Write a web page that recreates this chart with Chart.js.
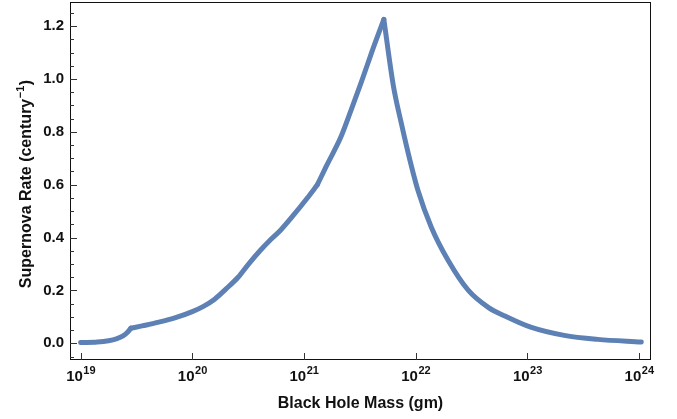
<!DOCTYPE html>
<html>
<head>
<meta charset="utf-8">
<script src="https://cdn.jsdelivr.net/npm/chart.js@4.4.0/dist/chart.umd.min.js"></script>
<style>
  html, body { margin: 0; padding: 0; background: #fff; }
  #wrap { width: 677px; height: 419px; }
</style>
</head>
<body>
<div id="wrap"><canvas id="c" width="677" height="419"></canvas></div>
<script>
// ---- data ----
// log10 of black hole mass (gm)
const logMass = [19.00, 19.15, 19.25, 19.32, 19.38, 19.42, 19.45, 19.55, 19.70, 19.85,
                 20.00, 20.10, 20.20, 20.30, 20.41, 20.50, 20.61, 20.70, 20.79, 20.90,
                 21.03, 21.12, 21.20, 21.33, 21.42, 21.51, 21.61, 21.715, 21.80, 21.87,
                 21.95, 22.02, 22.14, 22.29, 22.47, 22.65, 22.80, 23.03, 23.33, 23.63, 24.02];
// supernova rate (per century)
const rate = [0.003, 0.005, 0.010, 0.017, 0.028, 0.042, 0.057, 0.066, 0.080, 0.097,
              0.120, 0.140, 0.167, 0.205, 0.250, 0.298, 0.352, 0.392, 0.428, 0.482,
              0.550, 0.600, 0.670, 0.780, 0.880, 0.984, 1.105, 1.225, 0.975, 0.835,
              0.690, 0.579, 0.439, 0.314, 0.201, 0.136, 0.103, 0.061, 0.030, 0.015, 0.005];
// indexes where the curve has a kink (smooth pieces are split there)
const kinks = [0, 6, 21, 27, 40];

const xTickExp = [19, 20, 21, 22, 23, 24];
const yTicks = [0.0, 0.2, 0.4, 0.6, 0.8, 1.0, 1.2];
const yMinorTicks = [-0.05, 0.05, 0.1, 0.15, 0.25, 0.3, 0.35, 0.45, 0.5, 0.55, 0.65, 0.7, 0.75,
                     0.85, 0.9, 0.95, 1.05, 1.1, 1.15, 1.25];

const FONT = '"Liberation Sans", Arial, Helvetica, sans-serif';
const lineColor = '#5E81B5';
const inkColor = '#111';

const points = logMass.map((m, i) => ({ x: Math.pow(10, m), y: rate[i] }));
const pieces = [];
for (let k = 0; k < kinks.length - 1; k++) {
  pieces.push({
    data: points.slice(kinks[k], kinks[k + 1] + 1),
    borderColor: lineColor,
    borderWidth: 5,
    pointRadius: 0,
    cubicInterpolationMode: 'monotone',
    fill: false,
    borderCapStyle: 'round'
  });
}

// ---- frame, inside ticks, x labels with exponents, y title ----
const framePlugin = {
  id: 'frame',
  afterDraw(chart) {
    const ctx = chart.ctx;
    const a = chart.chartArea;
    const xs = chart.scales.x, ys = chart.scales.y;
    ctx.save();
    ctx.strokeStyle = inkColor;
    ctx.lineWidth = 1;
    ctx.strokeRect(Math.round(a.left) + 0.5, Math.round(a.top) + 0.5,
                   Math.round(a.right - a.left) - 1, Math.round(a.bottom - a.top) - 1);

    ctx.strokeStyle = '#333';
    ctx.beginPath();
    yTicks.forEach(v => {
      const y = Math.round(ys.getPixelForValue(v)) + 0.5;
      ctx.moveTo(a.left, y); ctx.lineTo(a.left + 7, y);
    });
    yMinorTicks.forEach(v => {
      const y = Math.round(ys.getPixelForValue(v)) + 0.5;
      ctx.moveTo(a.left, y); ctx.lineTo(a.left + 4, y);
    });
    xTickExp.forEach(e => {
      const x = Math.round(xs.getPixelForValue(Math.pow(10, e))) + 0.5;
      ctx.moveTo(x, a.bottom); ctx.lineTo(x, a.bottom - 7);
    });
    ctx.stroke();

    // x tick labels: "10" + raised exponent
    ctx.fillStyle = inkColor;
    ctx.textBaseline = 'alphabetic';
    ctx.textAlign = 'left';
    xTickExp.forEach(e => {
      const x = xs.getPixelForValue(Math.pow(10, e));
      ctx.font = 'bold 15px ' + FONT;
      const wBase = ctx.measureText('10').width;
      ctx.font = 'bold 11px ' + FONT;
      const wExp = ctx.measureText(String(e)).width;
      const x0 = x - (wBase + wExp) / 2;
      ctx.font = 'bold 15px ' + FONT;
      ctx.fillText('10', x0, a.bottom + 21);
      ctx.font = 'bold 11px ' + FONT;
      ctx.fillText(String(e), x0 + wBase + 0.5, a.bottom + 14);
    });

    // y title, rotated, with superscript -1
    const big = 'bold 16px ' + FONT, small = 'bold 11px ' + FONT;
    const p1 = 'Supernova Rate (century', p2 = '\u22121', p3 = ')';
    ctx.font = big;
    const w1 = ctx.measureText(p1).width, w3 = ctx.measureText(p3).width;
    ctx.font = small;
    const w2 = ctx.measureText(p2).width;
    const total = w1 + w2 + w3 + 1;
    const cy = (a.top + a.bottom) / 2 + 3;
    ctx.translate(31, cy);
    ctx.rotate(-Math.PI / 2);
    let tx = -total / 2;
    ctx.font = big;
    ctx.fillText(p1, tx, 0);
    tx += w1 + 0.5;
    ctx.font = small;
    ctx.fillText(p2, tx, -7);
    tx += w2 + 0.5;
    ctx.font = big;
    ctx.fillText(p3, tx, 0);
    ctx.restore();
  }
};

new Chart(document.getElementById('c'), {
  type: 'line',
  data: { datasets: pieces },
  options: {
    responsive: false,
    animation: false,
    layout: { padding: { top: 2, right: 26, bottom: 0, left: 0 } },
    plugins: { legend: { display: false }, tooltip: { enabled: false } },
    scales: {
      x: {
        type: 'logarithmic',
        min: Math.pow(10, 18.905),
        max: Math.pow(10, 24.107),
        grid: { display: false, drawTicks: false },
        border: { display: false },
        ticks: { display: false },
        title: {
          display: true,
          text: 'Black Hole Mass (gm)',
          color: inkColor,
          font: { family: FONT, size: 16, weight: 'bold' },
          padding: { top: 0, bottom: 6 }
        },
        afterFit(scale) {
          scale.height = 59;
          scale.paddingLeft = 0; scale.paddingRight = 0;
        }
      },
      y: {
        min: -0.063,
        max: 1.291,
        grid: { display: false, drawTicks: false },
        border: { display: false },
        afterBuildTicks(scale) { scale.ticks = yTicks.map(v => ({ value: v })); },
        ticks: {
          color: inkColor,
          padding: 6,
          font: { family: FONT, size: 15, weight: 'bold' },
          callback: v => Number(v).toFixed(1)
        },
        title: { display: false },
        afterFit(scale) {
          scale.width = 70;
          scale.paddingTop = 0; scale.paddingBottom = 0;
        }
      }
    }
  },
  plugins: [framePlugin]
});
</script>
</body>
</html>
